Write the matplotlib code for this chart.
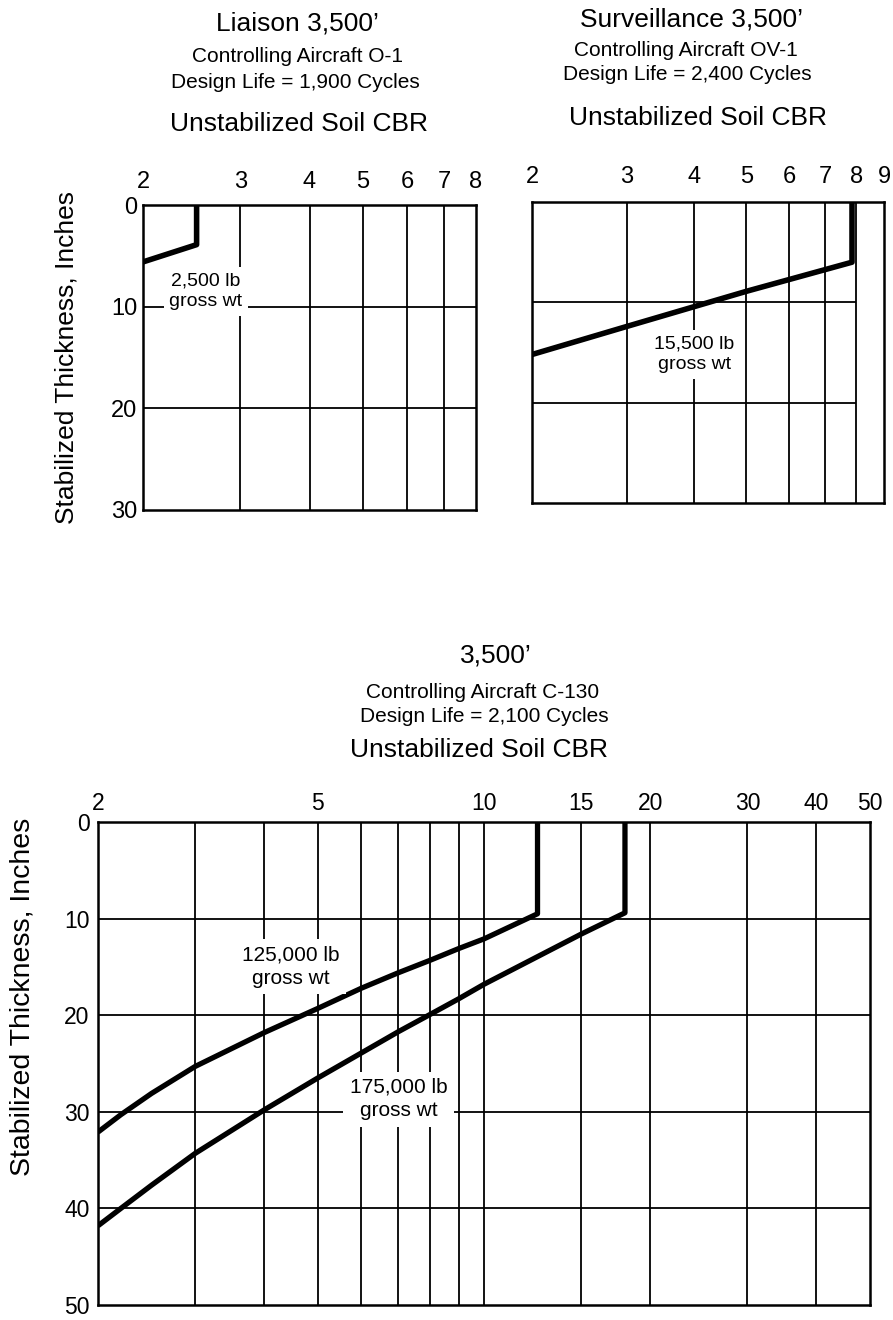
import matplotlib
matplotlib.use("Agg")
import matplotlib.pyplot as plt

plt.rcParams['font.family'] = ['Liberation Sans', 'DejaVu Sans']

W, H = 893, 1320

# --- data (CBR on x, stabilized thickness on y) ---
liaison_cbr = [2.0, 2.5, 2.5]
liaison_thk = [5.6, 3.9, 0.0]

surv_cbr = [2.0, 3.0, 5.0, 7.85, 7.85]
surv_thk = [15.2, 12.4, 8.9, 6.0, 0.0]

c130_125_cbr = [2, 2.2, 2.5, 3, 4, 5, 6, 7, 8, 9, 10, 12.5, 12.5]
c130_125_thk = [32.1, 30.3, 28.1, 25.3, 21.8, 19.3, 17.2, 15.6, 14.3, 13.1, 12.1, 9.5, 0.0]

c130_175_cbr = [2, 2.2, 2.5, 3, 4, 5, 6, 7, 8, 9, 10, 15, 18, 18]
c130_175_thk = [41.8, 40.0, 37.6, 34.3, 29.8, 26.5, 23.9, 21.7, 19.9, 18.3, 16.8, 11.6, 9.4, 0.0]

top_ticks = [2, 3, 4, 5, 6, 7, 8]
surv_ticks = [2, 3, 4, 5, 6, 7, 8, 9]
c130_ticks = [2, 5, 10, 15, 20, 30, 40, 50]
c130_grid = [3, 4, 5, 6, 7, 8, 9, 10, 15, 20, 30, 40]

liaison_title = ["Liaison 3,500\u2019", "Controlling Aircraft O-1", "Design Life = 1,900 Cycles",
                 "Unstabilized Soil CBR"]
surv_title = ["Surveillance 3,500\u2019", "Controlling Aircraft OV-1", "Design Life = 2,400 Cycles",
              "Unstabilized Soil CBR"]
c130_title = ["3,500\u2019", "Controlling Aircraft C-130", "Design Life = 2,100 Cycles",
              "Unstabilized Soil CBR"]

ylabel = "Stabilized Thickness, Inches"


def box(l, t, r, b):
    # pixel box -> figure fraction rect
    return [l / W, 1 - b / H, (r - l) / W, (b - t) / H]


def ftext(x, y, s, size, rot=0):
    fig.text(x / W, 1 - y / H, s, ha='center', va='center', fontsize=size, rotation=rot)


def panel(ax, xlim, ylim, xticks, yticks, show_y=True, xpad=8, ypad=4, size=17):
    ax.set_xscale('log')
    ax.set_xlim(*xlim)
    ax.set_ylim(ylim, 0)
    ax.xaxis.tick_top()
    ax.set_xticks(xticks)
    ax.set_xticklabels([str(v) for v in xticks])
    ax.minorticks_off()
    ax.set_yticks(yticks)
    if not show_y:
        ax.set_yticklabels([])
    ax.tick_params(axis='x', length=0, labelsize=size, pad=xpad)
    ax.tick_params(axis='y', length=0, labelsize=size, pad=ypad)
    for sp in ax.spines.values():
        sp.set_linewidth(1.8)


def label(ax, x, y, s, size=14.5):
    ax.text(x, y, s, ha='center', va='center', fontsize=size, linespacing=1.3, zorder=5,
            bbox=dict(boxstyle='square,pad=0.3', facecolor='white', edgecolor='none'))


fig = plt.figure(figsize=(W / 100, H / 100), dpi=100)

# Liaison panel
ax1 = fig.add_axes(box(143, 205, 476, 510))
panel(ax1, (2, 8), 30, top_ticks, [0, 10, 20, 30], xpad=9)
for g in [3, 4, 5, 6, 7]:
    ax1.axvline(g, color='black', lw=1.3, zorder=1)
for g in [10, 20]:
    ax1.axhline(g, color='black', lw=1.3, zorder=1)
ax1.plot(liaison_cbr, liaison_thk, color='black', lw=4, zorder=3, solid_capstyle='butt')
label(ax1, 2.6, 8.5, "2,500 lb\ngross wt", 14)

# Surveillance panel
ax2 = fig.add_axes(box(532, 202, 884, 503))
panel(ax2, (2, 9), 30, surv_ticks, [0, 10, 20, 30], show_y=False, xpad=10)
for g in [3, 4, 5, 6, 7, 8]:
    ax2.axvline(g, color='black', lw=1.3, zorder=1)
for g in [10, 20]:
    ax2.hlines(g, 2, 8, color='black', lw=1.3, zorder=1)
ax2.plot(surv_cbr, surv_thk, color='black', lw=4, zorder=3, solid_capstyle='butt')
label(ax2, 4.0, 15.2, "15,500 lb\ngross wt", 14)

# C-130 panel
ax3 = fig.add_axes(box(98, 822, 870, 1305))
panel(ax3, (2, 50), 50, c130_ticks, [0, 10, 20, 30, 40, 50], xpad=5, ypad=6, size=16.5)
for g in c130_grid:
    ax3.axvline(g, color='black', lw=1.3, zorder=1)
for g in [10, 20, 30, 40]:
    ax3.axhline(g, color='black', lw=1.3, zorder=1)
ax3.plot(c130_125_cbr, c130_125_thk, color='black', lw=3.8, zorder=3, solid_capstyle='butt')
ax3.plot(c130_175_cbr, c130_175_thk, color='black', lw=3.8, zorder=3, solid_capstyle='butt')
label(ax3, 4.47, 15.0, "125,000 lb\ngross wt", 15)
label(ax3, 7.0, 28.7, "175,000 lb\ngross wt", 15)

# titles
for (x, y), s, size in zip([(297, 24), (297, 57), (295, 83), (299, 124)], liaison_title, [19, 15, 15, 19]):
    ftext(x, y, s, size)
for (x, y), s, size in zip([(691, 19), (686, 50), (687, 75), (698, 118)], surv_title, [19, 15, 15, 19]):
    ftext(x, y, s, size)
for (x, y), s, size in zip([(496, 655), (483, 692), (484, 717), (479, 750)], c130_title, [19, 15, 15, 19]):
    ftext(x, y, s, size)

ftext(67, 358, ylabel, 19, rot=90)
ftext(23, 997, ylabel, 20.5, rot=90)

fig.savefig("out.png", dpi=100, facecolor='white')
